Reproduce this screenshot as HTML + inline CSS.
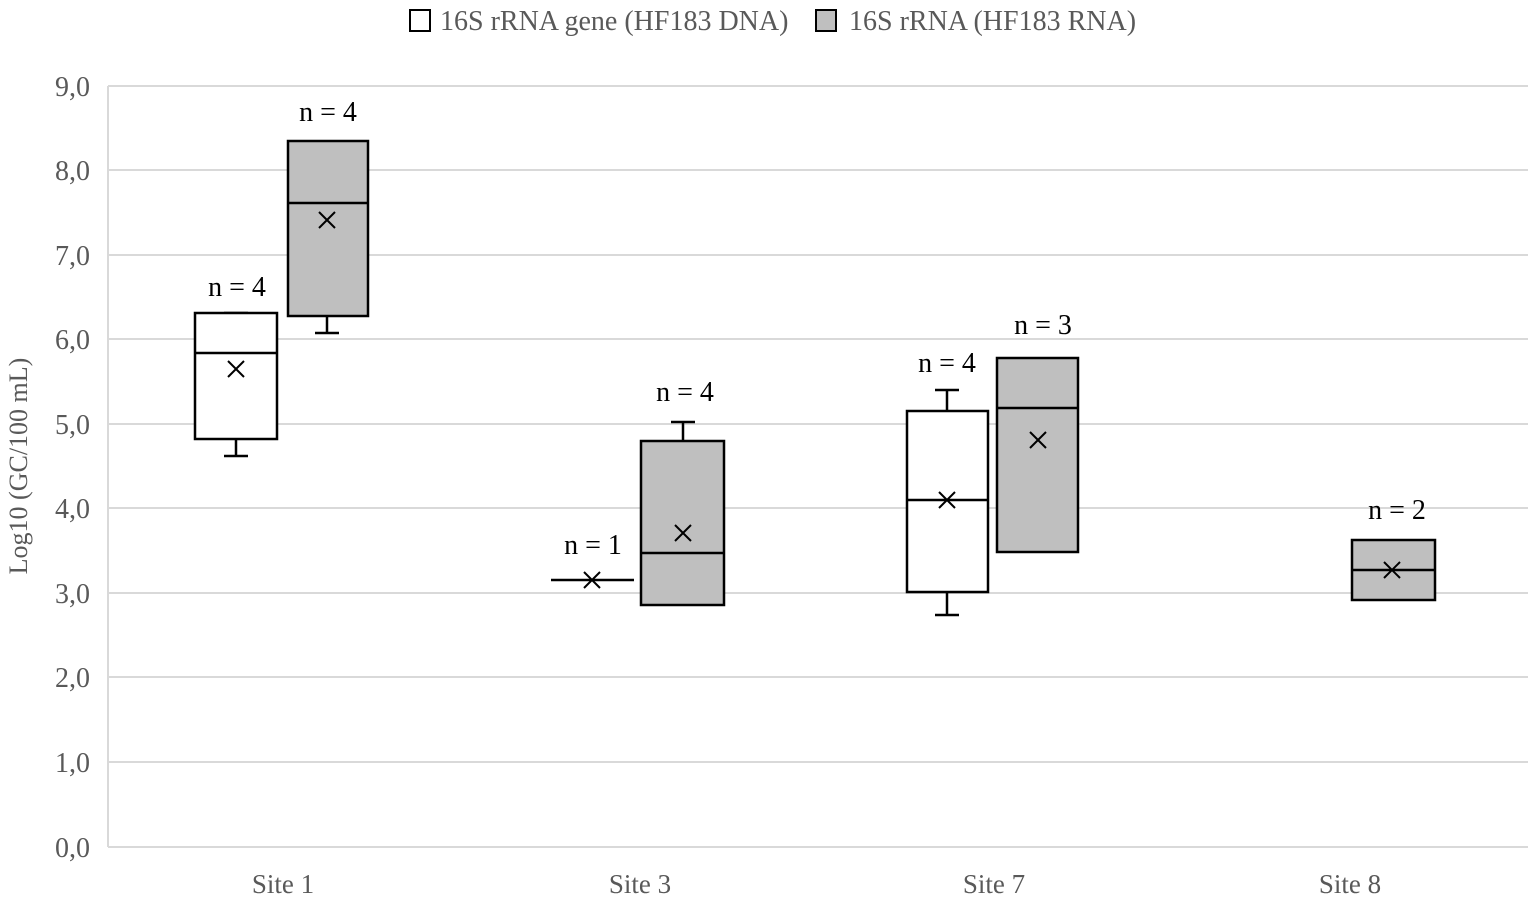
<!DOCTYPE html>
<html><head><style>body{margin:0;background:#fff}</style></head><body>
<svg width="1535" height="898" xmlns="http://www.w3.org/2000/svg" font-family="Liberation Serif, serif">
<g stroke="#d9d9d9" stroke-width="2">
<line x1="108" y1="86" x2="1528" y2="86"/><line x1="108" y1="170" x2="1528" y2="170"/><line x1="108" y1="255" x2="1528" y2="255"/><line x1="108" y1="339" x2="1528" y2="339"/><line x1="108" y1="424" x2="1528" y2="424"/><line x1="108" y1="508" x2="1528" y2="508"/><line x1="108" y1="593" x2="1528" y2="593"/><line x1="108" y1="677" x2="1528" y2="677"/><line x1="108" y1="762" x2="1528" y2="762"/><line x1="108" y1="847" x2="1528" y2="847"/><line x1="108" y1="86" x2="108" y2="847"/>
</g>
<g fill="#595959" font-size="28" text-anchor="end">
<text x="90" y="96">9,0</text><text x="90" y="180">8,0</text><text x="90" y="265">7,0</text><text x="90" y="349">6,0</text><text x="90" y="434">5,0</text><text x="90" y="518">4,0</text><text x="90" y="603">3,0</text><text x="90" y="687">2,0</text><text x="90" y="772">1,0</text><text x="90" y="857">0,0</text>
</g>
<text transform="translate(27,466) rotate(-90)" fill="#595959" font-size="26" text-anchor="middle">Log10 (GC/100 mL)</text>
<g fill="#595959" font-size="27" text-anchor="middle">
<text x="283" y="893">Site 1</text><text x="640" y="893">Site 3</text><text x="994" y="893">Site 7</text><text x="1350" y="893">Site 8</text>
</g>
<g fill="#595959" font-size="28">
<rect x="410" y="10" width="20" height="21" fill="#fff" stroke="#000" stroke-width="2"/>
<text x="440" y="30">16S rRNA gene (HF183 DNA)</text>
<rect x="816" y="10" width="20" height="21" fill="#bfbfbf" stroke="#000" stroke-width="2"/>
<text x="849" y="30">16S rRNA (HF183 RNA)</text>
</g>
<g stroke="#000" stroke-width="2.5" fill="none">
<line x1="236" y1="439" x2="236" y2="456"/><line x1="224" y1="456" x2="248" y2="456"/><line x1="224" y1="313" x2="248" y2="313"/>
<rect x="195" y="313" width="82" height="126" fill="#fff"/><line x1="195" y1="353" x2="277" y2="353"/>
<line x1="327" y1="316" x2="327" y2="333"/><line x1="315" y1="333" x2="339" y2="333"/>
<rect x="288" y="141" width="80" height="175" fill="#bfbfbf"/><line x1="288" y1="203" x2="368" y2="203"/>
<line x1="551" y1="580" x2="634" y2="580"/>
<line x1="683" y1="422" x2="683" y2="441"/><line x1="671" y1="422" x2="695" y2="422"/>
<rect x="641" y="441" width="83" height="164" fill="#bfbfbf"/><line x1="641" y1="553" x2="724" y2="553"/>
<line x1="947" y1="390" x2="947" y2="411"/><line x1="935" y1="390" x2="959" y2="390"/>
<line x1="947" y1="592" x2="947" y2="615"/><line x1="935" y1="615" x2="959" y2="615"/>
<rect x="907" y="411" width="81" height="181" fill="#fff"/><line x1="907" y1="500" x2="988" y2="500"/>
<rect x="997" y="358" width="81" height="194" fill="#bfbfbf"/><line x1="997" y1="408" x2="1078" y2="408"/>
<rect x="1352" y="540" width="83" height="60" fill="#bfbfbf"/><line x1="1352" y1="570" x2="1435" y2="570"/>
</g>
<g stroke="#000" stroke-width="2">
<path d="M228 361l16 16M244 361l-16 16"/>
<path d="M319 212l16 16M335 212l-16 16"/>
<path d="M584 572l16 16M600 572l-16 16"/>
<path d="M675 525l16 16M691 525l-16 16"/>
<path d="M939 492l16 16M955 492l-16 16"/>
<path d="M1030 432l16 16M1046 432l-16 16"/>
<path d="M1384 562l16 16M1400 562l-16 16"/>
</g>
<g fill="#000" font-size="28" text-anchor="middle">
<text x="237" y="296">n = 4</text><text x="328" y="121">n = 4</text>
<text x="593" y="554">n = 1</text><text x="685" y="401">n = 4</text>
<text x="947" y="372">n = 4</text><text x="1043" y="334">n = 3</text>
<text x="1397" y="519">n = 2</text>
</g>
</svg>
</body></html>
